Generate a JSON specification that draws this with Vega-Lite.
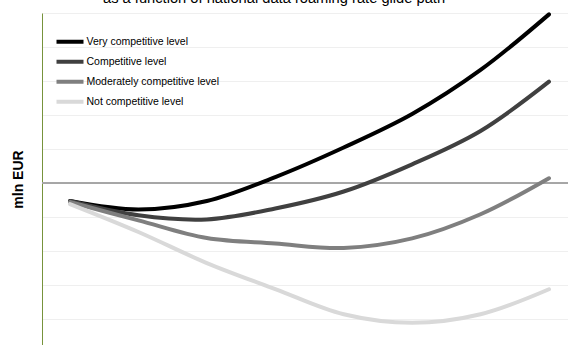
{
  "$schema": "https://vega.github.io/schema/vega-lite/v6.json",
  "autosize": {"type": "none"},
  "padding": {"left": 42, "top": 13, "right": 0, "bottom": 0},
  "width": 526,
  "height": 332,
  "background": "white",
  "config": {
    "font": "Liberation Sans",
    "view": {"stroke": null}
  },
  "title": {
    "text": "as a function of national data roaming rate glide path",
    "fontSize": 14.7,
    "fontWeight": "normal",
    "color": "#000000",
    "anchor": "start",
    "frame": "group",
    "dx": 61,
    "baseline": "alphabetic",
    "offset": -11.5
  },
  "data": {
    "values": [
      {"year": 2013, "series": "Very competitive level", "value": -10.6},
      {"year": 2014, "series": "Very competitive level", "value": -15.6},
      {"year": 2015, "series": "Very competitive level", "value": -10.6},
      {"year": 2016, "series": "Very competitive level", "value": 3.5},
      {"year": 2017, "series": "Very competitive level", "value": 20.9},
      {"year": 2018, "series": "Very competitive level", "value": 40.6},
      {"year": 2019, "series": "Very competitive level", "value": 66.5},
      {"year": 2020, "series": "Very competitive level", "value": 99.2},
      {"year": 2013, "series": "Competitive level", "value": -10.6},
      {"year": 2014, "series": "Competitive level", "value": -19.0},
      {"year": 2015, "series": "Competitive level", "value": -21.4},
      {"year": 2016, "series": "Competitive level", "value": -15.0},
      {"year": 2017, "series": "Competitive level", "value": -5.0},
      {"year": 2018, "series": "Competitive level", "value": 11.0},
      {"year": 2019, "series": "Competitive level", "value": 30.6},
      {"year": 2020, "series": "Competitive level", "value": 59.6},
      {"year": 2013, "series": "Moderately competitive level", "value": -11.2},
      {"year": 2014, "series": "Moderately competitive level", "value": -22.0},
      {"year": 2015, "series": "Moderately competitive level", "value": -32.4},
      {"year": 2016, "series": "Moderately competitive level", "value": -35.6},
      {"year": 2017, "series": "Moderately competitive level", "value": -38.2},
      {"year": 2018, "series": "Moderately competitive level", "value": -32.6},
      {"year": 2019, "series": "Moderately competitive level", "value": -18.4},
      {"year": 2020, "series": "Moderately competitive level", "value": 2.8},
      {"year": 2013, "series": "Not competitive level", "value": -12.4},
      {"year": 2014, "series": "Not competitive level", "value": -28.8},
      {"year": 2015, "series": "Not competitive level", "value": -47.1},
      {"year": 2016, "series": "Not competitive level", "value": -62.4},
      {"year": 2017, "series": "Not competitive level", "value": -77.2},
      {"year": 2018, "series": "Not competitive level", "value": -82.2},
      {"year": 2019, "series": "Not competitive level", "value": -77.2},
      {"year": 2020, "series": "Not competitive level", "value": -62.5}
    ]
  },
  "encoding": {
    "x": {
      "field": "year",
      "type": "quantitative",
      "scale": {"domain": [2012.591, 2020.278], "nice": false, "zero": false},
      "axis": null
    },
    "y": {
      "field": "value",
      "type": "quantitative",
      "scale": {"domain": [-95.29, 100], "nice": false, "zero": false},
      "axis": {
        "title": "mln EUR",
        "titleFontSize": 14,
        "titleFontWeight": "bold",
        "titleColor": "#000000",
        "titlePadding": 17,
        "labels": false,
        "ticks": false,
        "domainColor": "#77933C",
        "domainWidth": 1,
        "values": [-80, -60, -40, -20, 0, 20, 40, 60, 80, 100],
        "grid": true,
        "gridColor": "#efefef",
        "gridWidth": 1
      }
    }
  },
  "layer": [
    {
      "mark": {"type": "rule", "color": "#a6a6a6", "strokeWidth": 1},
      "encoding": {
        "y": {"datum": 0, "type": "quantitative"},
        "x": {"value": 0},
        "x2": {"value": 526}
      }
    },
    {
      "mark": {"type": "line", "interpolate": "catmull-rom", "strokeWidth": 4, "strokeCap": "round"},
      "encoding": {
        "color": {
          "field": "series",
          "type": "nominal",
          "scale": {
            "domain": ["Very competitive level", "Competitive level", "Moderately competitive level", "Not competitive level"],
            "range": ["#000000", "#404040", "#7f7f7f", "#d9d9d9"]
          },
          "legend": {
            "title": null,
            "orient": "none",
            "legendX": 12.5,
            "legendY": 19,
            "symbolType": "stroke",
            "symbolSize": 729,
            "symbolStrokeWidth": 4,
            "labelFontSize": 10.5,
            "labelColor": "#000000",
            "labelOffset": 1,
            "labelLimit": 300,
            "rowPadding": 0,
            "clipHeight": 19.5
          }
        }
      }
    }
  ]
}
